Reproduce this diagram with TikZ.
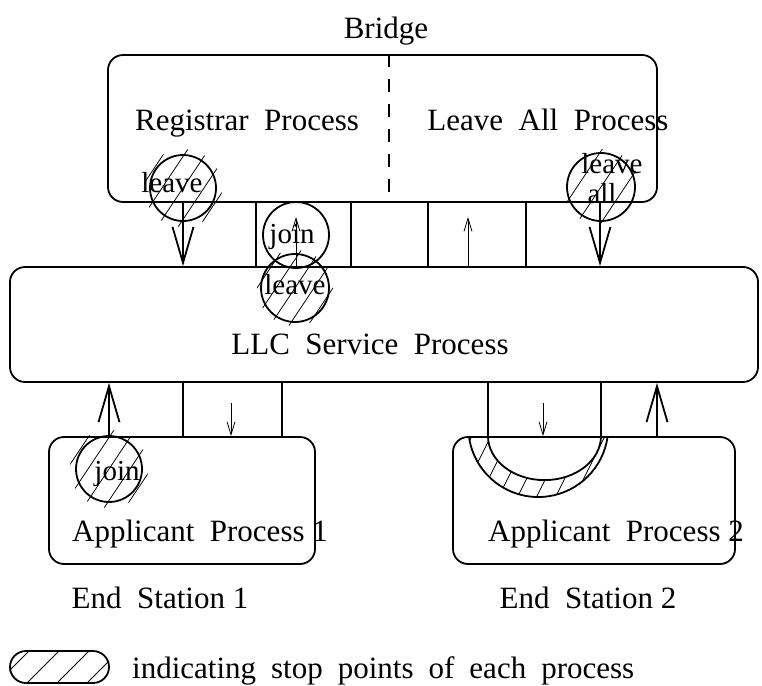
\documentclass[tikz,border=0pt]{standalone}
\usepackage{fontspec}
\setmainfont{Liberation Serif}
\usetikzlibrary{arrows.meta}
\begin{document}
\begin{tikzpicture}[x=1pt,y=-1pt,
  box/.style={draw, line width=1.8pt, rounded corners=15pt, inner sep=0pt},
  lbl/.style={font=\fontsize{31}{33}\selectfont, inner sep=0pt, anchor=base},
  slbl/.style={font=\fontsize{29}{31}\selectfont, inner sep=0pt, anchor=base},
  stopc/.style={draw, circle, line width=1.8pt, minimum size=66pt, inner sep=0pt},
  big/.style={line width=1.8pt, -{Straight Barb[length=36pt,width=21pt,line width=1.8pt]}},
  thinarr/.style={line width=0.8pt, -{Straight Barb[length=13pt,width=8pt,line width=0.8pt]}},
  wall/.style={line width=1.8pt},
  hatch/.style={line width=0.8pt}]
\useasboundingbox (0,0) rectangle (762,685);

% boxes
\node[box, minimum width=549pt, minimum height=147pt] (bridge) at (382.5,128.5) {};
\node[box, minimum width=748pt, minimum height=115pt] (llc) at (384,324.5) {};
\node[box, minimum width=266pt, minimum height=127pt] (app1) at (182,500.5) {};
\node[box, minimum width=282pt, minimum height=127pt] (app2) at (594,500.5) {};

% x positions
\coordinate (xd) at (389,0);
\coordinate (w1) at (256,0);
\coordinate (w2) at (351,0);
\coordinate (w3) at (428,0);
\coordinate (w4) at (526,0);
\coordinate (w5) at (183,0);
\coordinate (w6) at (282,0);
\coordinate (w7) at (488,0);
\coordinate (w8) at (601,0);
\coordinate (a1) at (183,0);
\coordinate (a2) at (600,0);
\coordinate (a3) at (109,0);
\coordinate (a4) at (657,0);
\coordinate (t1) at (296,217);
\coordinate (t2) at (468,217);
\coordinate (t3) at (231,403);
\coordinate (t4) at (543,403);

% dashed divider
\draw[wall, dash pattern=on 13pt off 12pt] (bridge.north -| xd) -- (bridge.south -| xd);

% walls
\foreach \w in {w1,w2,w3,w4} \draw[wall] (bridge.south -| \w) -- (llc.north -| \w);
\foreach \w in {w5,w6,w7} \draw[wall] (llc.south -| \w) -- (app1.north -| \w);
\draw[wall] (llc.south -| w8) -- (app2.north -| w8);

% big arrows
\draw[big] (bridge.south -| a1) -- (llc.north -| a1);
\draw[big] (bridge.south -| a2) -- (llc.north -| a2);
\draw[big] (app1.north -| a3) -- (llc.south -| a3);
\draw[big] (app2.north -| a4) -- (llc.south -| a4);

% thin arrows
\draw[thinarr] (llc.north -| t1) -- (t1);
\draw[thinarr] (llc.north -| t2) -- (t2);
\draw[thinarr] (t3) -- (app1.north -| t3);
\draw[thinarr] (t4) -- (app2.north -| t4);

% stop circles
\node[stopc] (lv1) at (183,188) {};
\node[stopc, minimum size=68pt] (lva) at (601,187) {};
\node[stopc] (jn1) at (296,235) {};
\node[stopc, minimum size=68pt] (lv2) at (295,288) {};
\node[stopc] (jn2) at (109,469) {};

% hatching of circles
\foreach \cx/\cy/\r/\dd in {183/188/39/21, 601/187/38/24, 295/288/38/19, 109/469/39/21}{
  \begin{scope}
    \clip (\cx,\cy) circle (\r pt);
    \foreach \k in {-3,...,3}
      \draw[hatch] (\cx+\k*\dd-30,\cy+45) -- (\cx+\k*\dd+30,\cy-45);
  \end{scope}
}

% half-ring stop region at Applicant Process 2
\draw[wall] (app2.north -| w7) arc[start angle=180, end angle=360, x radius=56.5pt, y radius=44pt];
\coordinate (ro) at (469,437);
\draw[wall] (ro) arc[start angle=188.2, end angle=351.8, radius=70pt];
\begin{scope}
  \clip (ro) arc[start angle=188.2, end angle=351.8, radius=70pt]
        -- (601,437) arc[start angle=360, end angle=180, x radius=56.5pt, y radius=44pt] -- cycle;
  \foreach \k in {0,...,9}
    \draw[hatch] (455+\k*19-20,510) -- (455+\k*19+20,430);
\end{scope}

% legend
\node[draw, line width=1.8pt, rounded corners=16pt, minimum width=99pt, minimum height=32pt, inner sep=0pt] (leg) at (59.5,667) {};
\begin{scope}
  \clip[rounded corners=16pt] (leg.south west) rectangle (leg.north east);
  \foreach \k in {0,...,4}
    \draw[hatch] (\k*30-10,690) -- (\k*30+40,640);
\end{scope}

% texts
\node[lbl] (tbridge) at (386,38) {Bridge};
\node[lbl] (treg) at (247,130) {Registrar\ \ Process};
\node[lbl] (tla) at (548,130) {Leave\ \ All\ \ Process};
\node[lbl] (tllc) at (370,354) {LLC\ \ Service\ \ Process};
\node[lbl] (tap1) at (200,541) {Applicant\ \ Process 1};
\node[lbl] (tap2) at (616,541) {Applicant\ \ Process 2};
\node[lbl] (tes1) at (160,608) {End\ \ Station 1};
\node[lbl] (tes2) at (588,608) {End\ \ Station 2};
\node[lbl, anchor=base west] (tleg) at (132,678) {indicating\hspace{15pt}stop\hspace{15pt}points\hspace{15pt}of\hspace{15pt}each\hspace{15pt}process};

% circle texts
\node[slbl] (slv1) at (172,192) {leave};
\node[slbl] (slva) at (612,173) {leave};
\node[slbl] (slva2) at (602,203) {all};
\node[slbl] (sjn1) at (292,243) {join};
\node[slbl] (slv2) at (295,294) {leave};
\node[slbl] (sjn2) at (117,480) {join};
\end{tikzpicture}
\end{document}
